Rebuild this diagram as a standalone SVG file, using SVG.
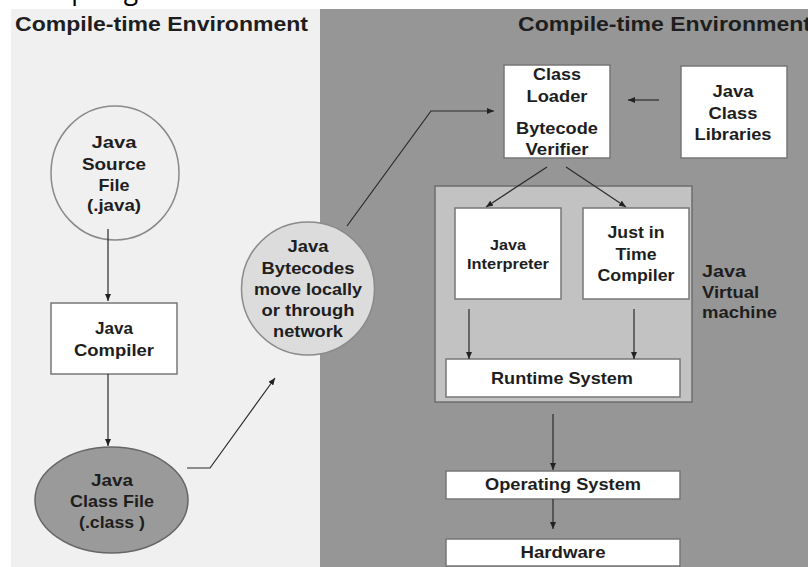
<svg xmlns="http://www.w3.org/2000/svg" width="808" height="567" viewBox="0 0 808 567">
<defs>
<marker id="ah" markerUnits="userSpaceOnUse" markerWidth="8" markerHeight="6" refX="7" refY="3" orient="auto">
<path d="M0,0 L7,3 L0,6 z" fill="#222"/>
</marker>
</defs>
<style>
text{font-family:"Liberation Sans",Arial,sans-serif;font-weight:bold;fill:#1e1e1e;text-anchor:middle;}
.h{font-size:20px;text-anchor:start;}
.t{font-size:16.5px;}
.s{font-size:14px;}
.l{font-size:16.5px;text-anchor:start;}
.box{fill:#ffffff;stroke:#777;stroke-width:1.5;}
.con path{fill:none;stroke:#2a2a2a;stroke-width:1.2;marker-end:url(#ah);}
</style>
<rect x="0" y="0" width="808" height="567" fill="#ffffff"/>
<text x="14" y="-1" style="font-family:'Open Sans',sans-serif;font-weight:normal;font-size:26.5px;text-anchor:start;fill:#000">Compiling</text>
<rect x="11" y="9" width="309" height="558" fill="#f0f0f0"/>
<rect x="320" y="9" width="488" height="558" fill="#969696"/>
<text class="h" x="15" y="31" textLength="293" lengthAdjust="spacingAndGlyphs">Compile-time Environment</text>
<text class="h" x="518" y="31" textLength="293" lengthAdjust="spacingAndGlyphs">Compile-time Environment</text>

<g id="jvm">
<rect x="435" y="186" width="257" height="216" fill="#c2c2c2" stroke="#6e6e6e" stroke-width="1.5"/>
<text class="l" x="702" y="277" textLength="44" lengthAdjust="spacingAndGlyphs">Java</text>
<text class="l" x="702" y="298" textLength="57" lengthAdjust="spacingAndGlyphs">Virtual</text>
<text class="l" x="702" y="318" textLength="75" lengthAdjust="spacingAndGlyphs">machine</text>
</g>

<g id="source">
<ellipse cx="115" cy="173" rx="64" ry="67" fill="#f0f0f0" stroke="#8a8a8a" stroke-width="1.5"/>
<text class="t" x="114" y="148" textLength="45" lengthAdjust="spacingAndGlyphs">Java</text>
<text class="t" x="114" y="169.5" textLength="64" lengthAdjust="spacingAndGlyphs">Source</text>
<text class="t" x="114" y="190.5" textLength="31" lengthAdjust="spacingAndGlyphs">File</text>
<text class="t" x="114" y="211" textLength="54" lengthAdjust="spacingAndGlyphs">(.java)</text>
</g>

<g id="compiler">
<rect class="box" x="51" y="303" width="126" height="71"/>
<text class="t" x="114" y="333.5" textLength="38" lengthAdjust="spacingAndGlyphs">Java</text>
<text class="t" x="114" y="355.5" textLength="80" lengthAdjust="spacingAndGlyphs">Compiler</text>
</g>

<g id="classfile">
<ellipse cx="111.5" cy="500" rx="76.5" ry="53" fill="#9a9a9a" stroke="#666" stroke-width="1.5"/>
<text class="t" x="112" y="485.5" textLength="42" lengthAdjust="spacingAndGlyphs">Java</text>
<text class="t" x="112" y="506.5" textLength="84" lengthAdjust="spacingAndGlyphs">Class File</text>
<text class="t" x="112" y="527.5" textLength="66" lengthAdjust="spacingAndGlyphs">(.class )</text>
</g>

<g id="bytecodes">
<ellipse cx="308" cy="288.5" rx="66.5" ry="66.5" fill="#dcdcdc" stroke="#8a8a8a" stroke-width="1.5"/>
<text class="t" x="308" y="251.5" textLength="41" lengthAdjust="spacingAndGlyphs">Java</text>
<text class="t" x="308" y="273.5" textLength="93" lengthAdjust="spacingAndGlyphs">Bytecodes</text>
<text class="t" x="308" y="294.5" textLength="108" lengthAdjust="spacingAndGlyphs">move locally</text>
<text class="t" x="308" y="315.5" textLength="93" lengthAdjust="spacingAndGlyphs">or through</text>
<text class="t" x="308" y="336.5" textLength="70" lengthAdjust="spacingAndGlyphs">network</text>
</g>

<g id="classloader">
<rect class="box" x="504" y="65" width="106" height="93"/>
<text class="t" x="557" y="79.5" textLength="48" lengthAdjust="spacingAndGlyphs">Class</text>
<text class="t" x="557" y="101.5" textLength="61" lengthAdjust="spacingAndGlyphs">Loader</text>
<text class="t" x="557" y="133.5" textLength="82" lengthAdjust="spacingAndGlyphs">Bytecode</text>
<text class="t" x="557" y="154.5" textLength="63" lengthAdjust="spacingAndGlyphs">Verifier</text>
</g>

<g id="libraries">
<rect class="box" x="681" y="66" width="106" height="92"/>
<text class="t" x="733" y="96.5" textLength="41" lengthAdjust="spacingAndGlyphs">Java</text>
<text class="t" x="733" y="118.5" textLength="49" lengthAdjust="spacingAndGlyphs">Class</text>
<text class="t" x="733" y="139.5" textLength="77" lengthAdjust="spacingAndGlyphs">Libraries</text>
</g>

<g id="interpreter">
<rect class="box" x="455" y="208" width="106" height="91"/>
<text class="s" x="508" y="250" textLength="36" lengthAdjust="spacingAndGlyphs">Java</text>
<text class="s" x="508" y="269" textLength="82" lengthAdjust="spacingAndGlyphs">Interpreter</text>
</g>

<g id="jit">
<rect class="box" x="583" y="208" width="106" height="91"/>
<text class="t" x="636" y="237.5" textLength="57" lengthAdjust="spacingAndGlyphs">Just in</text>
<text class="t" x="636" y="259.5" textLength="41" lengthAdjust="spacingAndGlyphs">Time</text>
<text class="t" x="636" y="280.5" textLength="77" lengthAdjust="spacingAndGlyphs">Compiler</text>
</g>

<g id="runtime">
<rect class="box" x="446" y="359" width="234" height="38"/>
<text class="t" x="562" y="383.5" textLength="142" lengthAdjust="spacingAndGlyphs">Runtime System</text>
</g>

<g id="os">
<rect class="box" x="446" y="471" width="234" height="28"/>
<text class="t" x="563" y="489.5" textLength="156" lengthAdjust="spacingAndGlyphs">Operating System</text>
</g>

<g id="hardware">
<rect class="box" x="446" y="539" width="234" height="27"/>
<text class="t" x="563" y="557.5" textLength="85" lengthAdjust="spacingAndGlyphs">Hardware</text>
</g>

<g id="connectors" class="con">
<path d="M108 229 V301"/>
<path d="M108 374 V446"/>
<path d="M187 468 H210 L275 378"/>
<path d="M347 226 L431 111 H494"/>
<path d="M659 100 H628"/>
<path d="M547 167 L486 207"/>
<path d="M566 167 L626 207"/>
<path d="M469 309 V359"/>
<path d="M634 309 V359"/>
<path d="M553 414 V470"/>
<path d="M553 499 V529"/>
</g>
</svg>
